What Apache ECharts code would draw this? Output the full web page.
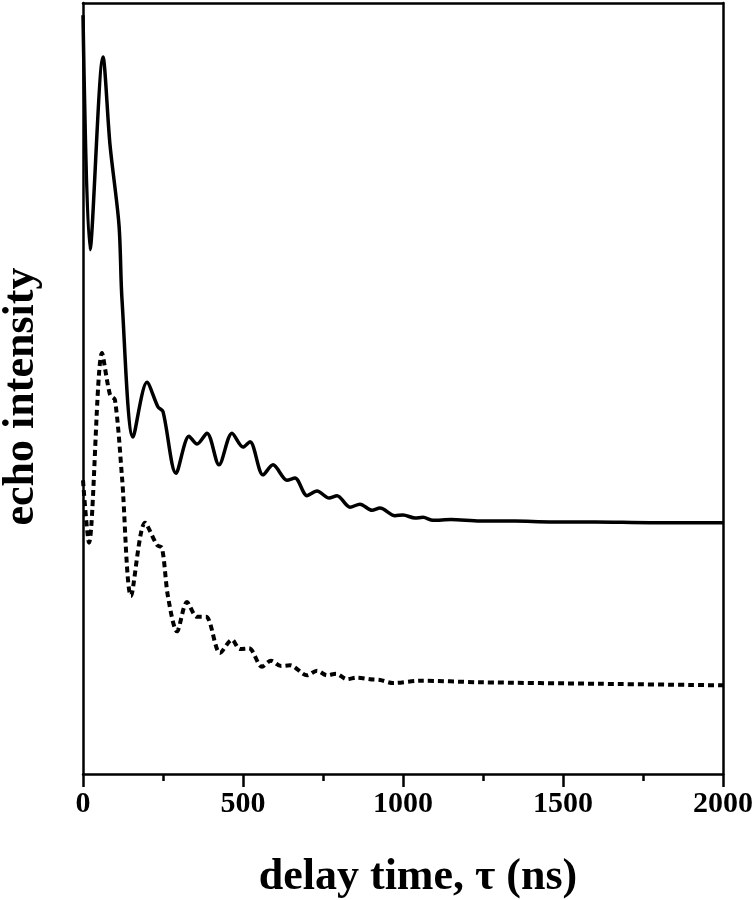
<!DOCTYPE html>
<html>
<head>
<meta charset="utf-8">
<script src="https://cdn.jsdelivr.net/npm/echarts@6/dist/echarts.min.js"></script>
<style>
html,body{margin:0;padding:0;background:#fff;}
#chart{width:754px;height:900px;}
</style>
</head>
<body>
<div id="chart"></div>
<script>
// delay time (ns) and echo intensity (arbitrary units)
const solidTime = [0, 21.9, 62.5, 84.4, 112.5, 121.9, 156.3, 200, 234.4, 250, 290.6, 331.3, 356.3, 387.5, 425, 465.6, 500, 521.9, 562.5, 593.8, 637.5, 662.5, 700, 731.3, 768.8, 793.8, 834.4, 865.6, 903.1, 928.1, 975, 1000, 1037.5, 1062.5, 1093.8, 1150, 1240.6, 1350, 1459.4, 1600, 1771.9, 2000];
const solidIntensity = [98.4, 68.0, 93.0, 81.6, 71.2, 61.5, 43.7, 50.8, 47.6, 47.0, 39.0, 43.8, 42.8, 44.2, 40.1, 44.2, 42.4, 43.1, 38.8, 40.1, 38.1, 38.4, 36.1, 36.7, 35.8, 36.1, 34.6, 35.0, 34.2, 34.5, 33.5, 33.6, 33.2, 33.3, 32.9, 33.0, 32.8, 32.8, 32.7, 32.7, 32.6, 32.6];

const dashTime = [0, 18.75, 59.4, 84.4, 100, 121.9, 150, 193.8, 231.3, 246.9, 265.6, 293.8, 325, 356.3, 384.4, 428.1, 465.6, 490.6, 518.8, 559.4, 587.5, 618.8, 646.9, 700, 731.3, 762.5, 790.6, 825, 856.3, 896.9, 928.1, 968.8, 1053, 1240.6, 1615.6, 2000];
const dashIntensity = [38.1, 30.0, 54.6, 49.2, 48.5, 38.5, 23.1, 32.6, 29.7, 29.3, 23.0, 18.5, 22.3, 20.4, 20.4, 15.7, 17.4, 16.2, 16.3, 13.9, 14.7, 14.0, 14.1, 12.8, 13.4, 12.8, 13.0, 12.3, 12.5, 12.3, 12.2, 11.8, 12.1, 11.9, 11.7, 11.5];

const xTicks = [0, 500, 1000, 1500, 2000];

const serif = '"Liberation Serif","DejaVu Serif",serif';
const chart = echarts.init(document.getElementById('chart'), null, {renderer: 'canvas'});
const zip = (a, b) => a.map((v, i) => [v, b[i]]);

chart.setOption({
  animation: false,
  backgroundColor: '#fff',
  grid: {left: 83, right: 31, top: 3, bottom: 126, containLabel: false, outerBoundsMode: 'none'},
  xAxis: [{
    type: 'value', min: xTicks[0], max: xTicks[xTicks.length - 1], interval: 500,
    position: 'bottom',
    name: 'delay time, τ (ns)', nameLocation: 'middle', nameGap: 82,
    nameTextStyle: {fontFamily: serif, fontWeight: 'bold', fontSize: 44, color: '#000', padding: [0, 0, 0, 30]},
    axisLine: {lineStyle: {color: '#000', width: 2.5}},
    axisTick: {inside: false, length: 13, lineStyle: {color: '#000', width: 2.5}},
    minorTick: {show: true, splitNumber: 2, length: 7, lineStyle: {color: '#000', width: 2.5}},
    axisLabel: {fontFamily: serif, fontWeight: 'bold', fontSize: 30, color: '#000', margin: 15,
      formatter: v => String(v)},
    splitLine: {show: false}
  }, {
    type: 'value', min: 0, max: 2000, position: 'top',
    axisLine: {show: true, onZero: false, lineStyle: {color: '#000', width: 2.5}},
    axisTick: {show: false}, axisLabel: {show: false}, splitLine: {show: false}
  }],
  yAxis: [{
    type: 'value', min: 0, max: 100, position: 'left',
    name: 'echo intensity', nameLocation: 'middle', nameGap: 39, nameRotate: 90,
    nameTextStyle: {fontFamily: serif, fontWeight: 'bold', fontSize: 44, color: '#000', padding: [0, 16, 0, 0]},
    axisLine: {show: true, onZero: false, lineStyle: {color: '#000', width: 2.5}},
    axisTick: {show: false}, axisLabel: {show: false}, splitLine: {show: false}
  }, {
    type: 'value', min: 0, max: 100, position: 'right',
    axisLine: {show: true, onZero: false, lineStyle: {color: '#000', width: 2.5}},
    axisTick: {show: false}, axisLabel: {show: false}, splitLine: {show: false}
  }],
  series: [{
    type: 'line', data: zip(solidTime, solidIntensity), showSymbol: false, smooth: 0.3,
    lineStyle: {color: '#000', width: 3.5, type: 'solid'}, z: 5
  }, {
    type: 'line', data: zip(dashTime, dashIntensity), showSymbol: false, smooth: 0.3,
    lineStyle: {color: '#000', width: 4, type: [6, 4]}, z: 5
  }]
});
</script>
</body>
</html>
